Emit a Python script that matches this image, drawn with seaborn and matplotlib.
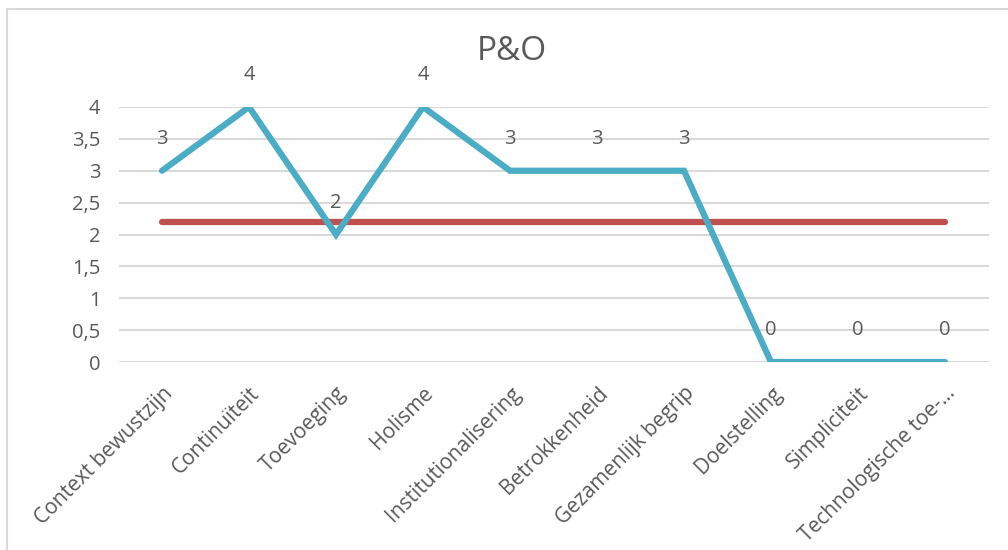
import matplotlib
matplotlib.use("Agg")
import matplotlib.pyplot as plt
import seaborn as sns
import pandas as pd
from matplotlib.patches import Rectangle
from matplotlib.ticker import FuncFormatter, MultipleLocator

categories = ["Context bewustzijn", "Continuïteit", "Toevoeging", "Holisme",
              "Institutionalisering", "Betrokkenheid", "Gezamenlijk begrip",
              "Doelstelling", "Simpliciteit", "Technologische toe-…"]
scores = [3, 4, 2, 4, 3, 3, 3, 0, 0, 0]
average = [2.2] * len(categories)

df = pd.DataFrame({"categorie": categories, "score": scores, "gemiddelde": average})
df["pos"] = range(len(df))

sns.set_theme(style="white")
plt.rcParams["font.family"] = ["Open Sans", "DejaVu Sans"]

text_color = "#595959"
blue = "#4BACC6"
red = "#C0504D"

fig = plt.figure(figsize=(10.08, 5.5), dpi=100)
W, H = 1008, 550
ax = fig.add_axes([118.5 / W, 1 - 362 / H, 870 / W, 255 / H])

sns.lineplot(data=df, x="pos", y="score", ax=ax, color=blue, linewidth=4.5,
             solid_capstyle="round", solid_joinstyle="miter", zorder=3)
sns.lineplot(data=df, x="pos", y="gemiddelde", ax=ax, color=red, linewidth=4.5,
             solid_capstyle="round", zorder=2)

# value labels above each point
for x, v in zip(df["pos"], df["score"]):
    ax.annotate(f"{v}", (x, v), xytext=(0, 23), textcoords="offset points",
                ha="center", va="center", fontsize=14.5, color=text_color, zorder=4)

ax.set_xlim(-0.5, len(categories) - 0.5)
ax.set_ylim(0, 4)
ax.yaxis.set_major_locator(MultipleLocator(0.5))
ax.yaxis.set_major_formatter(FuncFormatter(lambda v, p: f"{v:g}".replace(".", ",")))
ax.set_xticks(df["pos"])
ax.set_xticklabels(categories, rotation=45, ha="right", rotation_mode="anchor")
ax.grid(axis="y", color="#D9D9D9", linewidth=1.5, zorder=0)
ax.set_axisbelow(True)
for s in ax.spines.values():
    s.set_visible(False)
ax.tick_params(axis="y", length=0, pad=13, labelsize=14.5, labelcolor=text_color)
ax.tick_params(axis="x", length=0, pad=15, labelsize=15, labelcolor=text_color)
ax.set_xlabel("")
ax.set_ylabel("")

fig.text(512 / W, 1 - 52 / H, "P&O", ha="center", va="center", fontsize=24, color=text_color)

# chart frame
fig.patches.append(Rectangle((7 / W, -0.05), 1.1, 1 - 9 / H + 0.05, transform=fig.transFigure,
                             fill=False, edgecolor="#D9D9D9", linewidth=1.5))

fig.savefig("out.png", dpi=100)
